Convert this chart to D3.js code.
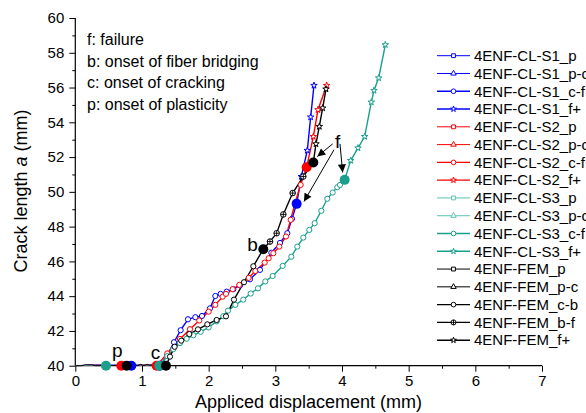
<!DOCTYPE html>
<html><head><meta charset="utf-8">
<script src="https://cdn.jsdelivr.net/npm/d3@7"></script>
<style>
body{margin:0;background:#fff;}
text{font-family:"Liberation Sans",Arial,sans-serif;fill:#000;}
</style></head>
<body><svg id="c" width="586" height="413"></svg>
<script>
// ---- data ----
const xTicks = [0,1,2,3,4,5,6,7];
const yTicks = [40,42,44,46,48,50,52,54,56,58,60];
const notes = ["f: failure","b: onset of fiber bridging","c: onset of cracking","p: onset of plasticity"];

// S1 (blue)
const s1P  = [[0,40],[0.15,40.03],[0.3,40.05],[0.5,40.03],[0.7,40.05],[0.84,40]];
const s1PC = [[0.84,40],[0.95,40.06],[1.05,40.02],[1.15,40.07],[1.27,40]];
const s1CF = [[1.27,40],[1.38,40.6],[1.48,41.35],[1.58,42.04],[1.69,42.67],[1.80,42.79],[1.90,42.86],[2.02,43.30],[2.10,44.01],[2.18,44.13],[2.27,44.26],[2.37,44.40],[2.47,44.62],[2.62,44.97],[2.77,45.51],[2.94,46.50],[3.07,47.06],[3.18,47.62],[3.25,48.45],[3.32,49.31]];
const s1FP = [[3.32,49.31],[3.39,50.88],[3.48,52.38],[3.53,54.30],[3.58,56.12]];
// S2 (red)
const s2P  = [[0,40],[0.3,40.03],[0.5,40.02],[0.69,40]];
const s2PC = [[0.69,40],[0.85,40.05],[0.95,40.02],[1.05,40.07],[1.15,40.03],[1.22,40]];
const s2CF = [[1.22,40],[1.38,40.71],[1.57,41.54],[1.72,42.1],[1.86,42.6],[2.00,43.11],[2.10,43.5],[2.21,43.97],[2.26,44.13],[2.36,44.4],[2.46,44.65],[2.60,45.05],[2.70,45.45],[2.84,45.93],[2.90,46.18],[2.97,46.47],[3.06,46.85],[3.16,47.43],[3.23,48.39],[3.30,49.4],[3.38,50.4],[3.47,51.42]];
const s2FP = [[3.47,51.42],[3.57,53.18],[3.64,54.72],[3.77,56.12]];
// S3 (teal)
const s3P  = [[0,40],[0.2,40.02],[0.46,40]];
const s3PC = [[0.46,40],[0.7,40.03],[0.9,40.05],[1.1,40.03],[1.26,40]];
const s3CF = [[1.26,40],[1.38,40.55],[1.47,40.95],[1.57,41.3],[1.67,41.55],[1.77,41.75],[1.88,41.95],[2.0,42.2],[2.12,42.55],[2.22,42.85],[2.29,43.17],[2.40,43.5],[2.52,43.8],[2.63,44.15],[2.74,44.45],[2.85,44.85],[2.96,45.16],[3.11,45.74],[3.24,46.27],[3.33,46.85],[3.42,47.37],[3.51,47.81],[3.59,48.20],[3.69,48.91],[3.78,49.60],[3.86,49.96],[3.93,50.27],[3.97,50.40],[4.04,50.69]];
const s3FP = [[4.04,50.69],[4.13,51.80],[4.24,52.52],[4.34,53.18],[4.44,55.16],[4.48,55.83],[4.55,56.55],[4.65,58.46]];
// FEM (black)
const fP  = [[0,40],[0.1,40],[0.15,40.05],[0.25,40.05],[0.3,40],[0.5,40.02],[0.77,40]];
const fPC = [[0.77,40],[0.85,40],[0.88,40.08],[0.93,40],[0.98,40.08],[1.03,40],[1.08,40.08],[1.13,40],[1.18,40.06],[1.23,40],[1.36,40]];
const fCB = [[1.36,40],[1.42,40.52],[1.49,41.09],[1.59,41.44],[1.71,41.82],[1.84,42.09],[1.98,42.38],[2.12,42.63],[2.26,42.84],[2.38,43.80],[2.53,44.80],[2.67,45.72],[2.82,46.70]];
const fBF = [[2.82,46.70],[2.92,47.14],[3.02,47.62],[3.12,48.70],[3.26,49.93],[3.42,50.88],[3.57,51.69]];
const fFP = [[3.57,51.69],[3.61,52.76],[3.66,53.76],[3.71,54.82],[3.76,55.91]];

// key points
const pPts = [["S1",0.84,40],["S2",0.69,40],["S3",0.46,40],["FEM",0.77,40]];
const cPts = [["S1",1.27,40],["S2",1.22,40],["S3",1.26,40],["FEM",1.36,40]];
const bPts = [["FEM",2.82,46.70]];
const fPts = [["S1",3.32,49.31],["S2",3.47,51.42],["S3",4.04,50.69],["FEM",3.57,51.69]];
const arrows = [[3.86,52.76,3.63,52.03],[3.88,52.42,3.43,49.44],[3.97,52.76,4.01,51.12]];

// ---- drawing ----
const colors = {S1:"#0000ff",S2:"#ff0000",S3:"#1a9f8c",FEM:"#000000"};
const light = {S1:"#0000ff",S2:"#ff0000",S3:"#5cc0b2",FEM:"#000000"};
const series = [
 {n:"4ENF-CL-S1_p",g:"S1",d:s1P,m:"square",thin:true},
 {n:"4ENF-CL-S1_p-c",g:"S1",d:s1PC,m:"triangle",thin:true},
 {n:"4ENF-CL-S1_c-f",g:"S1",d:s1CF,m:"circle"},
 {n:"4ENF-CL-S1_f+",g:"S1",d:s1FP,m:"star"},
 {n:"4ENF-CL-S2_p",g:"S2",d:s2P,m:"square",thin:true},
 {n:"4ENF-CL-S2_p-c",g:"S2",d:s2PC,m:"triangle",thin:true},
 {n:"4ENF-CL-S2_c-f",g:"S2",d:s2CF,m:"circle"},
 {n:"4ENF-CL-S2_f+",g:"S2",d:s2FP,m:"star"},
 {n:"4ENF-CL-S3_p",g:"S3",d:s3P,m:"square",thin:true},
 {n:"4ENF-CL-S3_p-c",g:"S3",d:s3PC,m:"triangle",thin:true},
 {n:"4ENF-CL-S3_c-f",g:"S3",d:s3CF,m:"circle"},
 {n:"4ENF-CL-S3_f+",g:"S3",d:s3FP,m:"star"},
 {n:"4ENF-FEM_p",g:"FEM",d:fP,m:"square",thin:true},
 {n:"4ENF-FEM_p-c",g:"FEM",d:fPC,m:"triangle",thin:true},
 {n:"4ENF-FEM_c-b",g:"FEM",d:fCB,m:"circle"},
 {n:"4ENF-FEM_b-f",g:"FEM",d:fBF,m:"pluscircle"},
 {n:"4ENF-FEM_f+",g:"FEM",d:fFP,m:"star"}
];

const svg = d3.select("#c");
const x = d3.scaleLinear().domain([0,7]).range([75.3,542]);
const y = d3.scaleLinear().domain([40,60]).range([365.7,18]);

// axes
const xAx = svg.append("g").attr("transform","translate(0,365.7)")
  .call(d3.axisBottom(x).tickValues(xTicks).tickSize(6).tickPadding(4).tickFormat(d3.format("d")));
const xMin = svg.append("g").attr("transform","translate(0,365.7)")
  .call(d3.axisBottom(x).tickValues(d3.range(0.5,7,1)).tickSize(3).tickFormat(""));
const yAx = svg.append("g").attr("transform","translate(75.3,0)")
  .call(d3.axisLeft(y).tickValues(yTicks).tickSize(6).tickPadding(5).tickFormat(d3.format("d")));
const yMin = svg.append("g").attr("transform","translate(75.3,0)")
  .call(d3.axisLeft(y).tickValues(d3.range(41,60,2)).tickSize(3).tickFormat(""));
xMin.select(".domain").remove();
yMin.select(".domain").remove();
xAx.select(".domain").attr("d",`M${x(0)},0H${x(7)}`).attr("stroke","#000").attr("stroke-width",1.2);
yAx.select(".domain").attr("d",`M0,${y(40)}V${y(60)}`).attr("stroke","#000").attr("stroke-width",1.2);
svg.selectAll(".tick line").attr("stroke","#000").attr("stroke-width",1);
svg.selectAll(".tick text").style("font-size","15px").style("font-family","Liberation Sans, Arial");

// axis titles
svg.append("text").attr("x",308.5).attr("y",408).attr("text-anchor","middle").style("font-size","18px")
  .text("Appliced displacement (mm)");
const yt = svg.append("text").attr("transform","translate(26.5,191) rotate(-90)").attr("text-anchor","middle").style("font-size","18px");
yt.append("tspan").text("Crack length ");
yt.append("tspan").style("font-style","italic").text("a");
yt.append("tspan").text(" (mm)");

// notes
notes.forEach((t,i)=>svg.append("text").attr("x",87).attr("y",45+i*21.7).style("font-size","16px").text(t));

// marker helper
function drawMarker(g,type,cx,cy,color,scale){
  scale = scale||1;
  if(type==="circle"){
    g.append("circle").attr("cx",cx).attr("cy",cy).attr("r",2.6*scale).attr("fill","#fff").attr("stroke",color).attr("stroke-width",1);
  } else if(type==="pluscircle"){
    g.append("circle").attr("cx",cx).attr("cy",cy).attr("r",2.8*scale).attr("fill","#fff").attr("stroke",color).attr("stroke-width",1);
    g.append("path").attr("d",`M${cx-2.8*scale},${cy}H${cx+2.8*scale}M${cx},${cy-2.8*scale}V${cy+2.8*scale}`).attr("stroke",color).attr("stroke-width",0.9);
  } else {
    const sym = {square:d3.symbolSquare,triangle:d3.symbolTriangle,star:d3.symbolStar}[type];
    const size = {square:18,triangle:16,star:13}[type]*scale*scale;
    g.append("path").attr("d",d3.symbol().type(sym).size(size)()).attr("transform",`translate(${cx},${cy})`)
      .attr("fill","#fff").attr("stroke",color).attr("stroke-width",1);
  }
}

const line = d3.line().x(d=>x(d[0])).y(d=>y(d[1]));
const plot = svg.append("g");
series.forEach(s=>{
  const col = s.thin ? light[s.g] : colors[s.g];
  plot.append("path").attr("d",line(s.d)).attr("fill","none").attr("stroke",col).attr("stroke-width",s.thin?1:1.4);
});
series.forEach(s=>{
  if(s.thin) return;
  const g = plot.append("g");
  s.d.forEach((d,i)=>{ if(i===0) return; drawMarker(g,s.m,x(d[0]),y(d[1]),colors[s.g]); });
});

// key filled points
const order = ["S1","S2","S3","FEM"];
[pPts,cPts,bPts,fPts].forEach(arr=>{
  order.forEach(gname=>{
    arr.filter(p=>p[0]===gname).forEach(p=>{
      plot.append("circle").attr("cx",x(p[1])).attr("cy",y(p[2])).attr("r",5).attr("fill",colors[p[0]]);
    });
  });
});

// point labels
svg.append("text").attr("x",x(0.55)).attr("y",357).style("font-size","19px").text("p");
svg.append("text").attr("x",x(1.13)).attr("y",359).style("font-size","19px").text("c");
svg.append("text").attr("x",x(2.58)).attr("y",250.5).style("font-size","19px").text("b");
svg.append("text").attr("x",x(3.895)).attr("y",148).style("font-size","19px").text("f");

// arrows
svg.append("defs").append("marker").attr("id","ah").attr("viewBox","0 0 10 10").attr("refX",10).attr("refY",5)
  .attr("markerWidth",9).attr("markerHeight",8).attr("markerUnits","userSpaceOnUse").attr("orient","auto")
  .append("path").attr("d","M0,0L10,5L0,10z").attr("fill","#000");
arrows.forEach(a=>{
  svg.append("line").attr("x1",x(a[0])).attr("y1",y(a[1])).attr("x2",x(a[2])).attr("y2",y(a[3]))
    .attr("stroke","#000").attr("stroke-width",1).attr("marker-end","url(#ah)");
});

// legend
const lg = svg.append("g");
series.forEach((s,i)=>{
  const yy = 55.7 + i*17.78;
  const col = s.thin ? light[s.g] : colors[s.g];
  lg.append("line").attr("x1",437).attr("x2",470).attr("y1",yy).attr("y2",yy).attr("stroke",col).attr("stroke-width",s.thin?1:1.4);
  drawMarker(lg,s.m,453.5,yy,col,0.9);
  lg.append("text").attr("x",474).attr("y",yy).attr("dy","0.35em").style("font-size","15px").text(s.n);
});
</script></body></html>
